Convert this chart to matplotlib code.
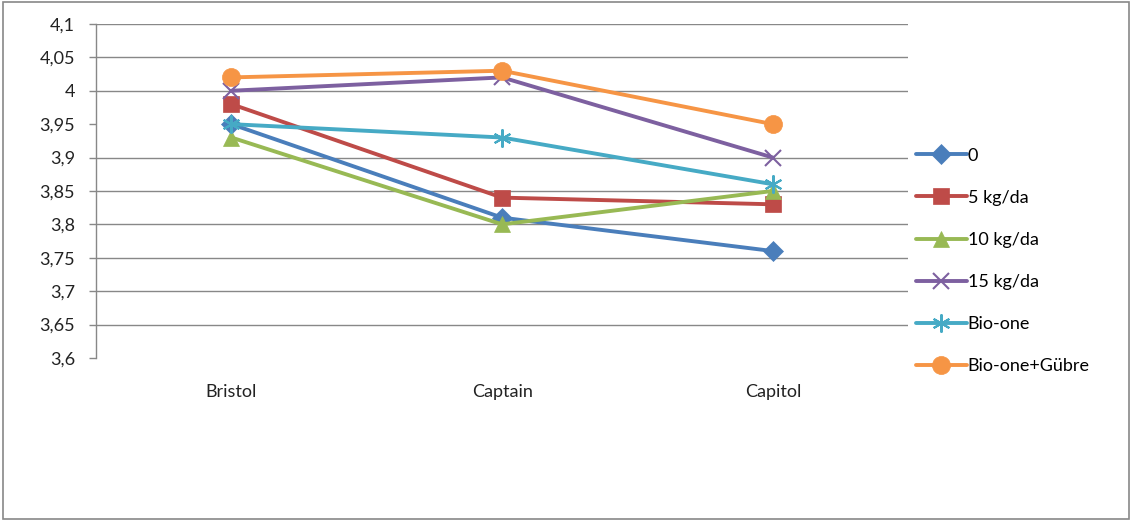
import matplotlib
matplotlib.use("Agg")

import matplotlib.pyplot as plt
from matplotlib.ticker import FuncFormatter

plt.rcParams["font.family"] = ["Lato", "DejaVu Sans"]

categories = ["Bristol", "Captain", "Capitol"]
labels = ["0", "5 kg/da", "10 kg/da", "15 kg/da", "Bio-one", "Bio-one+Gübre"]

s_0 = [3.95, 3.81, 3.76]
s_5 = [3.98, 3.84, 3.83]
s_10 = [3.93, 3.80, 3.85]
s_15 = [4.00, 4.02, 3.90]
s_bio = [3.95, 3.93, 3.86]
s_bio_g = [4.02, 4.03, 3.95]

yticks = [3.6, 3.65, 3.7, 3.75, 3.8, 3.85, 3.9, 3.95, 4.0, 4.05, 4.1]

series = [s_0, s_5, s_10, s_15, s_bio, s_bio_g]
colors = ["#4A7EBB", "#BE4B48", "#98B954", "#7D60A0", "#46AAC5", "#F69545"]
markers = ["D", "s", "^", "x", (6, 2, 0), "o"]
msizes = [10, 12, 12, 12, 13, 13]

GRID = "#888888"

fig = plt.figure(figsize=(11.32, 5.21), dpi=100)
ax = fig.add_axes([0.0848, 0.313, 0.7175, 0.641])

x = list(range(len(categories)))
for vals, lab, c, m, ms in zip(series, labels, colors, markers, msizes):
    ax.plot(x, vals, color=c, linewidth=2.8, marker=m, markersize=ms,
            markeredgewidth=1.5 if m in ("x", (6, 2, 0)) else 0.5,
            markeredgecolor=c, markerfacecolor=c, label=lab,
            solid_capstyle="round")

ax.set_xlim(-0.5, 2.5)
ax.set_ylim(3.6, 4.1)
ax.set_yticks(yticks)
ax.yaxis.set_major_formatter(FuncFormatter(lambda v, p: f"{v:g}".replace(".", ",")))
ax.set_xticks(x)
ax.set_xticklabels(categories)

# gridlines (Excel style, none at the bottom)
for v in yticks[1:]:
    if abs(v - 3.95) < 1e-9:
        continue
    ax.axhline(v, color=GRID, linewidth=1.0, zorder=0)

for side in ("top", "right", "bottom"):
    ax.spines[side].set_visible(False)
ax.spines["left"].set_color(GRID)
ax.spines["left"].set_linewidth(1.0)

ax.tick_params(axis="y", length=5, width=1, color=GRID, pad=10,
               labelsize=13, labelcolor="#222222")
ax.tick_params(axis="x", length=0, pad=19, labelsize=13, labelcolor="#222222")

ax.legend(loc="center left", bbox_to_anchor=(0.803, 0.499),
          bbox_transform=fig.transFigure, frameon=False, fontsize=13,
          handlelength=2.8, handletextpad=0.05, labelspacing=1.45,
          borderaxespad=0)

# outer chart border
fig.patches.append(plt.Rectangle((0.003, 0.004), 0.994, 0.992,
                                 transform=fig.transFigure, fill=False,
                                 edgecolor="#888888", linewidth=1.2))

fig.savefig("out.png", dpi=100, facecolor="white")
plt.close(fig)
